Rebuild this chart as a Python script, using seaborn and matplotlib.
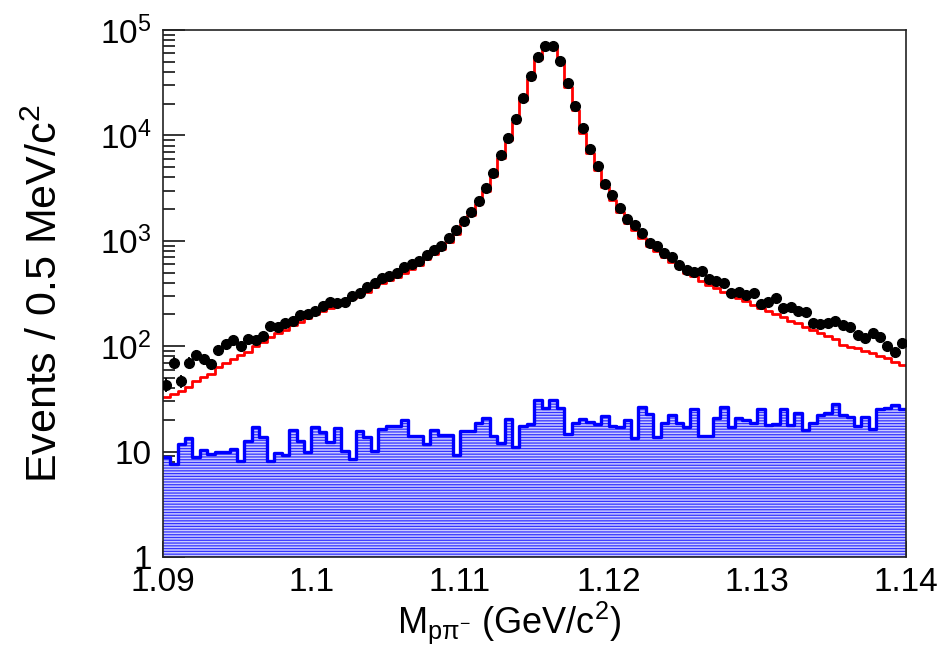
import numpy as np
import pandas as pd
import matplotlib
matplotlib.use("Agg")
import matplotlib.pyplot as plt
import seaborn as sns
from matplotlib.ticker import FixedLocator, FixedFormatter, MultipleLocator, NullFormatter

# Binning of the p pi- invariant mass (0.5 MeV/c^2 bins)
x_lo, x_hi, bin_w = 1.09, 1.14, 0.0005
n_bins = 100

# Observed events per bin
data_counts = [
    43, 70, 47, 70, 82, 75, 68, 92, 105, 114, 100, 117, 114, 125, 155, 153, 167, 175,
    198, 202, 217, 241, 265, 259, 265, 299, 322, 367, 401,
    440, 464, 491, 570, 600, 640, 733, 818, 900, 1055, 1260, 1553, 1870, 2400, 3150,
    4370, 6450, 9480, 14200, 22480, 36500, 55000,
    70500, 70500, 51200, 31200, 19000, 11700, 7380, 5125, 3458, 2720, 2033, 1599, 1413,
    1178, 960, 893, 760, 697, 589, 528,
    510, 521, 431, 419, 395, 322, 329, 306, 322, 251, 265, 285, 229, 237, 217, 213, 165,
    162, 165, 175, 159, 153, 128, 119, 134, 123, 100, 89, 108,
]

# Signal Monte Carlo prediction
signal_mc = [
    32.7, 35.2, 37.8, 41.3, 47.1, 50.7, 54.5, 64.0, 69.8, 75.0, 82.5, 88.7, 100, 110, 123,
    132, 142, 159, 171, 184, 202, 217, 229, 246, 265, 285, 306, 329, 367,
    395, 425, 455, 500, 540, 585, 670, 750, 830, 975, 1160, 1440, 1740, 2250, 2950, 4080,
    6150, 9050, 13500, 21500, 34500, 53000,
    67000, 67000, 48300, 29000, 17400, 10600, 6760, 4700, 3220, 2440, 1890, 1485, 1266,
    1056, 893, 805, 706, 634, 548, 492,
    464, 419, 381, 354, 329, 306, 285, 270, 246, 229, 217, 202, 188, 175, 165, 153, 142,
    134, 125, 116, 103, 99, 95.5, 90.7, 85.5, 80.7, 76.7, 71.3, 66.3,
]

# Background estimate
background = [
    8.9, 7.7, 11.8, 13.4, 8.9, 10.4, 9.5, 10.0, 10.0, 10.5, 8.2, 12.7, 17.0, 13.7, 8.2,
    9.8, 9.3, 16.0, 12.7, 10.0, 17.0, 15.5, 12.4, 16.6, 10.2, 8.6, 15.8, 13.9, 10.1, 16.3,
    17.5, 17.5, 19.9, 14.1, 14.1, 11.8, 16.0, 14.4, 14.4, 9.3, 15.7, 15.7, 18.5, 20.7,
    14.1, 12.0, 20.2, 11.1, 17.5, 18.3, 30.9,
    25.7, 30.9, 25.7, 14.7, 18.8, 20.4, 19.2, 18.3, 21.8, 17.5, 17.2, 19.9, 13.4, 26.3,
    22.7, 13.9, 18.8, 22.3, 18.8, 17.2, 25.4, 14.1, 14.1, 20.7, 26.3, 17.2, 20.7, 19.9,
    18.8, 25.2, 17.9, 18.3, 25.4, 17.9, 23.1, 16.0, 18.5, 22.3, 23.1, 28.3, 22.3, 21.4,
    17.5, 21.4, 16.3, 25.2, 25.7, 27.7, 25.2,
]

y_ticks = [1, 10, 100, 1000, 10000, 100000]
y_tick_labels = ["1", "10", r"$10^{2}$", r"$10^{3}$", r"$10^{4}$", r"$10^{5}$"]
x_ticks = [1.09, 1.10, 1.11, 1.12, 1.13, 1.14]
x_tick_labels = ["1.09", "1.1", "1.11", "1.12", "1.13", "1.14"]

edges = [x_lo + bin_w * i for i in range(n_bins + 1)]
centers = [0.5 * (a + b) for a, b in zip(edges[:-1], edges[1:])]
df = pd.DataFrame({
    "mass": centers,
    "data": np.array(data_counts, float),
    "mc": np.array(signal_mc, float),
    "bkg": np.array(background, float),
})

sns.set_theme(style="ticks")
plt.rcParams["font.family"] = ["Liberation Sans", "DejaVu Sans"]
plt.rcParams["mathtext.fontset"] = "custom"
plt.rcParams["mathtext.rm"] = "Liberation Sans"
plt.rcParams["mathtext.it"] = "Liberation Sans"
plt.rcParams["mathtext.sf"] = "Liberation Sans"
plt.rcParams["hatch.linewidth"] = 0.9
plt.rcParams["text.color"] = "black"
plt.rcParams["axes.labelcolor"] = "black"

fig = plt.figure(figsize=(9.45, 6.55), dpi=100)
ax = fig.add_axes([0.1722, 0.1496, 0.7865, 0.8046])
ax.set_yscale("log")

# Background: hatched fill, then its outline
sns.histplot(data=df, x="mass", weights="bkg", bins=edges, element="step", fill=True,
             facecolor="#cacaff", edgecolor="#3434ff", hatch="------", linewidth=0,
             ax=ax, legend=False)
sns.histplot(data=df, x="mass", weights="bkg", bins=edges, element="step", fill=False,
             color="#0000ff", linewidth=2.4, ax=ax, legend=False)

# Signal MC: red step histogram
sns.histplot(data=df, x="mass", weights="mc", bins=edges, element="step", fill=False,
             color="#ff0000", linewidth=2.0, ax=ax, legend=False)

# Data points with statistical errors
ax.errorbar(df["mass"], df["data"], yerr=np.sqrt(df["data"]), fmt="o", color="black",
            markersize=7, elinewidth=1.3, capsize=0, zorder=5)

ax.set_xlim(x_lo, x_hi)
ax.set_ylim(1, 1e5)

ax.xaxis.set_major_locator(FixedLocator(x_ticks))
ax.xaxis.set_major_formatter(FixedFormatter(x_tick_labels))
ax.xaxis.set_minor_locator(MultipleLocator(0.002))
ax.yaxis.set_major_locator(FixedLocator(y_ticks))
ax.yaxis.set_major_formatter(FixedFormatter(y_tick_labels))
minor_y = [m * 10 ** e for e in range(0, 5) for m in range(2, 10)]
ax.yaxis.set_minor_locator(FixedLocator(minor_y))
ax.yaxis.set_minor_formatter(NullFormatter())

ax.tick_params(axis="both", which="both", direction="in", colors="black",
               labelcolor="black", top=False, right=False, labelsize=24)
ax.tick_params(axis="y", which="major", length=16, width=1.1, pad=8)
ax.tick_params(axis="y", which="minor", length=8.5, width=1.1)
ax.tick_params(axis="x", which="major", length=11.5, width=1.1, pad=7)
ax.tick_params(axis="x", which="minor", length=5.5, width=1.1)

for s in ax.spines.values():
    s.set_visible(True)
    s.set_color("#222222")
    s.set_linewidth(1.2)

ax.set_xlabel(r"M$_{\mathregular{p\pi^{-}}}$ (GeV/c$^{2}$)", fontsize=26, va="top")
ax.xaxis.set_label_coords(0.466, -0.080)
ax.set_ylabel(r"Events / 0.5 MeV/c$^{2}$", fontsize=31, va="center")
ax.yaxis.set_label_coords(-0.157, 0.5)

fig.savefig("out.png", dpi=100)
